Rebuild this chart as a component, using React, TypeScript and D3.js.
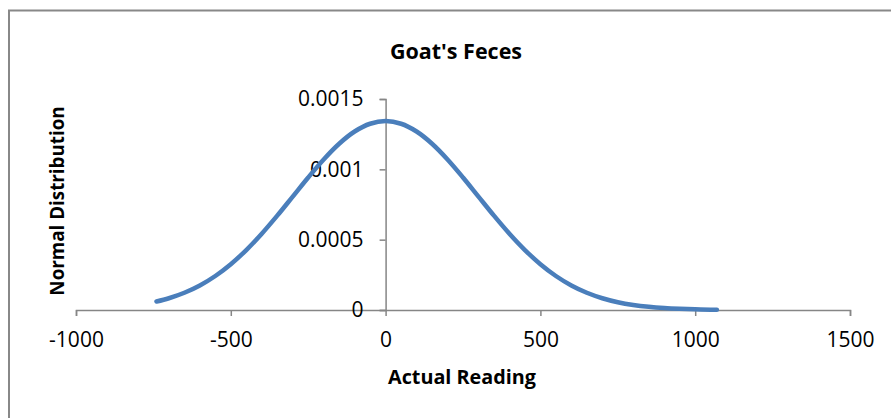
import React, { useRef, useEffect } from 'react';
import * as d3 from 'd3';

// readings (x) and normal distribution value (y)
const readings = [
  -740, -700, -650, -600, -550, -500, -450, -400, -350, -300, -250, -200, -150, -100, -50,
  0, 50, 100, 150, 200, 250, 300, 350, 400, 450, 500, 550, 600, 650, 700, 750, 800, 850,
  900, 950, 1000, 1050, 1070,
];
const normalValues = [
  0.0000603, 0.0000836, 0.0001225, 0.0001745, 0.0002418, 0.0003256, 0.0004261, 0.0005422,
  0.0006707, 0.0008063, 0.0009424, 0.0010705, 0.0011822, 0.001269, 0.0013241,
  0.001343, 0.0013241, 0.001269, 0.0011822, 0.0010705, 0.0009424, 0.0008063, 0.0006707,
  0.0005422, 0.0004261, 0.0003256, 0.0002418, 0.0001745, 0.0001225, 0.0000836, 0.0000554,
  0.0000357, 0.0000224, 0.0000136, 0.0000081, 0.0000046, 0.0000026, 0.000002,
];
const xTicks = [-1000, -500, 0, 500, 1000, 1500];
const xTickLabels = ['-1000', '-500', '0', '500', '1000', '1500'];
const yTicks = [0, 0.0005, 0.001, 0.0015];
const yTickLabels = ['0', '0.0005', '0.001', '0.0015'];

const W = 891;
const H = 418;
const FONT = "'Open Sans', sans-serif";

const App = () => {
  const svgRef = useRef<SVGSVGElement>(null);

  useEffect(() => {
    const svg = d3.select(svgRef.current);
    svg.selectAll('*').remove();

    const x = d3.scaleLinear().domain([-1000, 1500]).range([76, 850]);
    const y = d3.scaleLinear().domain([0, 0.0015]).range([310, 99]);

    // chart frame
    svg.append('rect')
      .attr('x', 9).attr('y', 10.5)
      .attr('width', 1000).attr('height', 1000)
      .attr('fill', '#fff')
      .attr('stroke', '#888').attr('stroke-width', 2);

    // title
    svg.append('text')
      .attr('x', 456).attr('y', 59)
      .attr('text-anchor', 'middle')
      .attr('font-family', FONT).attr('font-weight', 'bold').attr('font-size', 21.5)
      .text("Goat's Feces");

    // x axis
    const xAxis = svg.append('g')
      .attr('transform', `translate(0,${y(0)})`)
      .call(d3.axisBottom(x).tickValues(xTicks).tickSize(6)
        .tickFormat((d, i) => xTickLabels[i]));
    xAxis.select('.domain').attr('stroke', '#868686').attr('stroke-width', 1.5);
    xAxis.selectAll('.tick line').attr('stroke', '#868686').attr('stroke-width', 1.5);
    xAxis.selectAll('.tick text')
      .attr('font-family', FONT).attr('font-size', 21).attr('fill', '#000')
      .attr('dy', null).attr('y', 37);

    // y axis crossing at x = 0
    const yAxis = svg.append('g')
      .attr('transform', `translate(${x(0)},0)`)
      .call(d3.axisLeft(y).tickValues(yTicks).tickSize(6)
        .tickFormat((d, i) => yTickLabels[i]));
    yAxis.select('.domain').attr('stroke', '#868686').attr('stroke-width', 1.5);
    yAxis.selectAll('.tick line').attr('stroke', '#868686').attr('stroke-width', 1.5);
    yAxis.selectAll('.tick text')
      .attr('font-family', FONT).attr('font-size', 21).attr('fill', '#000')
      .attr('x', -22).attr('dy', '0.33em');

    // curve
    const pts = readings.map((r, i) => [r, normalValues[i]] as [number, number]);
    const line = d3.line<[number, number]>()
      .x(d => x(d[0]))
      .y(d => y(d[1]))
      .curve(d3.curveCatmullRom);
    svg.append('path')
      .datum(pts)
      .attr('fill', 'none')
      .attr('stroke', '#4A7EBB')
      .attr('stroke-width', 4.5)
      .attr('stroke-linecap', 'round')
      .attr('d', line);

    // axis titles
    svg.append('text')
      .attr('x', 462).attr('y', 384)
      .attr('text-anchor', 'middle')
      .attr('font-family', FONT).attr('font-weight', 'bold').attr('font-size', 19.8)
      .text('Actual Reading');

    svg.append('text')
      .attr('transform', `translate(64,201) rotate(-90)`)
      .attr('text-anchor', 'middle')
      .attr('font-family', FONT).attr('font-weight', 'bold').attr('font-size', 18.8)
      .text('Normal Distribution');
  }, []);

  return (
    <svg ref={svgRef} width={W} height={H}
      style={{ position: 'absolute', left: 0, top: 0, background: '#fff' }} />
  );
};

export default App;
